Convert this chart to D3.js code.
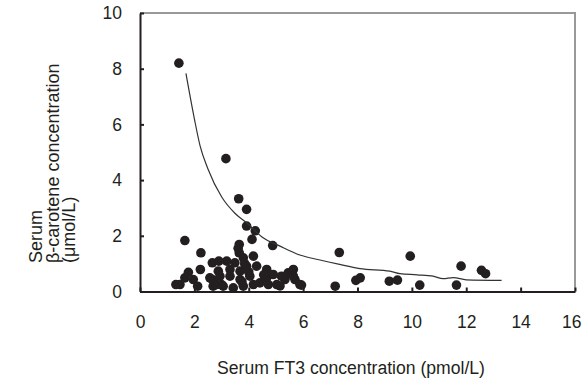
<!DOCTYPE html>
<html>
<head>
<meta charset="utf-8">
<script src="https://cdn.jsdelivr.net/npm/d3@7"></script>
<style>
  body { margin: 0; background: #fff; }
  svg text { font-family: "Liberation Sans", Arial, sans-serif; fill: #231f20; }
</style>
</head>
<body>
<svg id="chart" width="582" height="381"></svg>
<script>
// serum FT3 (pmol/L) vs serum beta-carotene (umol/L)
const ft3 = [1.43, 3.16, 3.63, 3.92, 3.92, 4.24, 4.12, 4.88, 1.65, 2.24,
  3.65, 3.65, 3.80, 4.17, 3.19, 3.49, 3.92, 4.29, 2.66, 2.90,
  2.22, 2.88, 3.31, 3.68, 1.78, 1.65, 1.96, 2.57, 2.94, 3.31,
  3.68, 4.04, 1.32, 1.47, 2.12, 2.69, 3.00, 2.82, 3.06, 3.43,
  3.80, 4.17, 4.66, 4.66, 4.90, 4.41, 4.72, 5.03, 5.33, 5.45,
  5.64, 5.70, 5.88, 5.94, 5.15, 7.33, 9.94, 11.81, 12.56, 12.71,
  7.18, 7.94, 8.10, 9.17, 9.47, 10.29, 11.64, 3.61, 2.66, 5.64,
  3.75, 3.85, 4.00, 4.55, 5.20];
const carotene = [8.20, 4.77, 3.33, 2.95, 2.35, 2.18, 1.87, 1.65, 1.83, 1.39,
  1.69, 1.39, 1.21, 1.27, 1.09, 1.03, 0.91, 0.91, 1.03, 1.09,
  0.79, 0.73, 0.79, 0.73, 0.69, 0.49, 0.43, 0.49, 0.55, 0.55,
  0.43, 0.55, 0.25, 0.25, 0.19, 0.19, 0.25, 0.25, 0.19, 0.13,
  0.19, 0.25, 0.79, 0.49, 0.61, 0.31, 0.25, 0.25, 0.43, 0.67,
  0.79, 0.43, 0.25, 0.23, 0.20, 1.40, 1.27, 0.91, 0.76, 0.64,
  0.19, 0.40, 0.49, 0.37, 0.41, 0.23, 0.23, 1.55, 0.43, 0.55,
  0.35, 1.00, 0.70, 0.60, 0.55];

// fitted curve
const fitX = [1.69, 2.0, 2.21, 2.5, 3.0, 3.5, 3.92, 4.5, 5.15, 5.88, 6.62, 7.3, 8.09, 9.19, 9.56, 10.2, 10.78, 11.15, 11.52, 12.0, 13.3];
const fitY = [7.83, 6.2, 5.23, 4.4, 3.4, 2.8, 2.47, 1.95, 1.63, 1.31, 1.13, 0.98, 0.82, 0.73, 0.64, 0.6, 0.55, 0.46, 0.50, 0.42, 0.40];

const xTicks = [0, 2, 4, 6, 8, 10, 12, 14, 16];
const yTicks = [0, 2, 4, 6, 8, 10];
const xTitle = "Serum FT3 concentration (pmol/L)";
const yTitle = ["Serum", "β-carotene concentration", "(μmol/L)"];

const svg = d3.select("svg#chart");
const plotLeft = 140, plotRight = 575, plotTop = 13, plotBottom = 291.5;

const xScale = d3.scaleLinear().domain([0, 16]).range([plotLeft, plotRight]);
const yScale = d3.scaleLinear().domain([0, 10]).range([plotBottom, plotTop]);

// grey frame on top and right
svg.append("path")
  .attr("d", `M${plotLeft},${plotTop}H${plotRight}V${plotBottom}`)
  .attr("fill", "none")
  .attr("stroke", "#999")
  .attr("stroke-width", 2);

const xAxis = svg.append("g")
  .attr("transform", `translate(0,${plotBottom})`)
  .call(d3.axisBottom(xScale).tickValues(xTicks).tickSize(-4).tickSizeOuter(0).tickPadding(24));

const yAxis = svg.append("g")
  .attr("transform", `translate(${plotLeft},0)`)
  .call(d3.axisLeft(yScale).tickValues(yTicks).tickSize(-4).tickSizeOuter(0).tickPadding(18));

[xAxis, yAxis].forEach(g => {
  g.select(".domain").attr("stroke", "#231f20").attr("stroke-width", 2);
  g.selectAll(".tick line").attr("stroke", "#231f20").attr("stroke-width", 2);
  g.selectAll(".tick text").attr("font-size", 17.5).attr("fill", "#231f20")
    .attr("font-family", "'Liberation Sans', Arial, sans-serif");
});

// last label sits against the right edge
xAxis.selectAll(".tick text").filter(d => d === 16)
  .attr("text-anchor", "end").attr("x", 6);

// points
const pts = ft3.map((v, i) => [v, carotene[i]]);
svg.append("g")
  .selectAll("circle")
  .data(pts)
  .enter()
  .append("circle")
  .attr("r", 4.8)
  .attr("cx", d => xScale(d[0]))
  .attr("cy", d => yScale(d[1]))
  .attr("fill", "#231f20");

// fit line
const line = d3.line()
  .x(d => xScale(d[0]))
  .y(d => yScale(d[1]))
  .curve(d3.curveMonotoneX);

svg.append("path")
  .datum(fitX.map((v, i) => [v, fitY[i]]))
  .attr("d", line)
  .attr("fill", "none")
  .attr("stroke", "#333")
  .attr("stroke-width", 1.2);

// titles
svg.append("text")
  .attr("x", 351)
  .attr("y", 374)
  .attr("text-anchor", "middle")
  .attr("font-size", 17.6)
  .text(xTitle);

const yt = svg.append("text")
  .attr("transform", "translate(42,263) rotate(-90)")
  .attr("font-size", 18)
  .attr("textLength", null);
yTitle.forEach((t, i) => {
  yt.append("tspan").attr("x", 0).attr("y", i * 16.7).text(t);
});
</script>
</body>
</html>
